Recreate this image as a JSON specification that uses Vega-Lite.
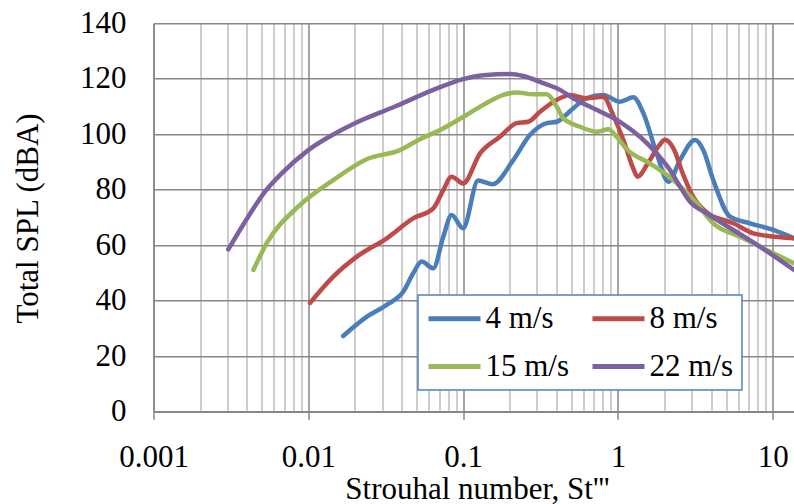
{
  "$schema": "https://vega.github.io/schema/vega-lite/v6.json",
  "width": 640.5,
  "height": 388.4,
  "autosize": {"type": "none"},
  "padding": {"left": 153.5, "top": 23.3, "right": 0, "bottom": 92.3},
  "background": "white",
  "config": {
    "view": {"stroke": null},
    "font": "Liberation Serif",
    "legend": {"strokeWidth": 1.5}
  },
  "data": {
    "values": [
      {"s": "4 m/s", "st": 0.0168, "spl": 27.3},
      {"s": "4 m/s", "st": 0.0238, "spl": 34.2},
      {"s": "4 m/s", "st": 0.0321, "spl": 38.5},
      {"s": "4 m/s", "st": 0.0411, "spl": 43.3},
      {"s": "4 m/s", "st": 0.0476, "spl": 49.9},
      {"s": "4 m/s", "st": 0.054, "spl": 54.1},
      {"s": "4 m/s", "st": 0.0642, "spl": 51.7},
      {"s": "4 m/s", "st": 0.0745, "spl": 63.1},
      {"s": "4 m/s", "st": 0.0843, "spl": 70.9},
      {"s": "4 m/s", "st": 0.1, "spl": 66.1},
      {"s": "4 m/s", "st": 0.125, "spl": 83.3},
      {"s": "4 m/s", "st": 0.155, "spl": 82.0},
      {"s": "4 m/s", "st": 0.211, "spl": 90.7},
      {"s": "4 m/s", "st": 0.27, "spl": 99.7},
      {"s": "4 m/s", "st": 0.347, "spl": 104.0},
      {"s": "4 m/s", "st": 0.403, "spl": 104.5},
      {"s": "4 m/s", "st": 0.515, "spl": 109.4},
      {"s": "4 m/s", "st": 0.629, "spl": 113.0},
      {"s": "4 m/s", "st": 0.805, "spl": 114.2},
      {"s": "4 m/s", "st": 1.03, "spl": 111.7},
      {"s": "4 m/s", "st": 1.258, "spl": 113.3},
      {"s": "4 m/s", "st": 1.46, "spl": 107.6},
      {"s": "4 m/s", "st": 1.78, "spl": 93.1},
      {"s": "4 m/s", "st": 2.12, "spl": 82.9},
      {"s": "4 m/s", "st": 2.52, "spl": 90.7},
      {"s": "4 m/s", "st": 3.15, "spl": 97.9},
      {"s": "4 m/s", "st": 3.56, "spl": 94.3},
      {"s": "4 m/s", "st": 4.13, "spl": 83.5},
      {"s": "4 m/s", "st": 5.3, "spl": 70.3},
      {"s": "4 m/s", "st": 7.13, "spl": 67.9},
      {"s": "4 m/s", "st": 10.1, "spl": 65.5},
      {"s": "4 m/s", "st": 13.73, "spl": 62.5},

      {"s": "8 m/s", "st": 0.01026, "spl": 39.2},
      {"s": "8 m/s", "st": 0.0145, "spl": 48.7},
      {"s": "8 m/s", "st": 0.0206, "spl": 55.9},
      {"s": "8 m/s", "st": 0.0321, "spl": 62.5},
      {"s": "8 m/s", "st": 0.0476, "spl": 69.7},
      {"s": "8 m/s", "st": 0.0642, "spl": 73.3},
      {"s": "8 m/s", "st": 0.0745, "spl": 79.9},
      {"s": "8 m/s", "st": 0.0843, "spl": 84.7},
      {"s": "8 m/s", "st": 0.1, "spl": 82.3},
      {"s": "8 m/s", "st": 0.1287, "spl": 93.1},
      {"s": "8 m/s", "st": 0.173, "spl": 99.1},
      {"s": "8 m/s", "st": 0.222, "spl": 104.0},
      {"s": "8 m/s", "st": 0.264, "spl": 104.5},
      {"s": "8 m/s", "st": 0.314, "spl": 108.1},
      {"s": "8 m/s", "st": 0.383, "spl": 111.7},
      {"s": "8 m/s", "st": 0.491, "spl": 114.2},
      {"s": "8 m/s", "st": 0.629, "spl": 113.0},
      {"s": "8 m/s", "st": 0.805, "spl": 113.5},
      {"s": "8 m/s", "st": 0.93, "spl": 107.0},
      {"s": "8 m/s", "st": 1.1, "spl": 97.0},
      {"s": "8 m/s", "st": 1.25, "spl": 88.0},
      {"s": "8 m/s", "st": 1.34, "spl": 84.7},
      {"s": "8 m/s", "st": 1.56, "spl": 89.5},
      {"s": "8 m/s", "st": 1.85, "spl": 96.0},
      {"s": "8 m/s", "st": 2.01, "spl": 98.0},
      {"s": "8 m/s", "st": 2.28, "spl": 95.0},
      {"s": "8 m/s", "st": 2.66, "spl": 85.0},
      {"s": "8 m/s", "st": 3.06, "spl": 77.5},
      {"s": "8 m/s", "st": 3.75, "spl": 71.8},
      {"s": "8 m/s", "st": 5.57, "spl": 67.9},
      {"s": "8 m/s", "st": 7.5, "spl": 64.3},
      {"s": "8 m/s", "st": 9.14, "spl": 63.4},
      {"s": "8 m/s", "st": 13.73, "spl": 62.5},

      {"s": "15 m/s", "st": 0.00442, "spl": 51.1},
      {"s": "15 m/s", "st": 0.00538, "spl": 60.7},
      {"s": "15 m/s", "st": 0.0086, "spl": 73.9},
      {"s": "15 m/s", "st": 0.01452, "spl": 83.5},
      {"s": "15 m/s", "st": 0.0238, "spl": 91.0},
      {"s": "15 m/s", "st": 0.0391, "spl": 94.3},
      {"s": "15 m/s", "st": 0.0526, "spl": 98.2},
      {"s": "15 m/s", "st": 0.071, "spl": 101.5},
      {"s": "15 m/s", "st": 0.1054, "spl": 107.0},
      {"s": "15 m/s", "st": 0.135, "spl": 110.6},
      {"s": "15 m/s", "st": 0.182, "spl": 114.2},
      {"s": "15 m/s", "st": 0.222, "spl": 115.1},
      {"s": "15 m/s", "st": 0.284, "spl": 114.4},
      {"s": "15 m/s", "st": 0.347, "spl": 114.4},
      {"s": "15 m/s", "st": 0.403, "spl": 109.9},
      {"s": "15 m/s", "st": 0.444, "spl": 105.8},
      {"s": "15 m/s", "st": 0.569, "spl": 102.7},
      {"s": "15 m/s", "st": 0.729, "spl": 100.9},
      {"s": "15 m/s", "st": 0.867, "spl": 101.8},
      {"s": "15 m/s", "st": 0.98, "spl": 99.1},
      {"s": "15 m/s", "st": 1.14, "spl": 94.6},
      {"s": "15 m/s", "st": 1.61, "spl": 89.5},
      {"s": "15 m/s", "st": 2.28, "spl": 83.5},
      {"s": "15 m/s", "st": 3.23, "spl": 75.1},
      {"s": "15 m/s", "st": 4.13, "spl": 67.9},
      {"s": "15 m/s", "st": 6.15, "spl": 63.1},
      {"s": "15 m/s", "st": 9.14, "spl": 58.3},
      {"s": "15 m/s", "st": 13.73, "spl": 53.5},

      {"s": "22 m/s", "st": 0.00304, "spl": 58.5},
      {"s": "22 m/s", "st": 0.00409, "spl": 70.3},
      {"s": "22 m/s", "st": 0.00525, "spl": 79.3},
      {"s": "22 m/s", "st": 0.00673, "spl": 85.9},
      {"s": "22 m/s", "st": 0.01, "spl": 94.3},
      {"s": "22 m/s", "st": 0.0156, "spl": 100.9},
      {"s": "22 m/s", "st": 0.02, "spl": 104.0},
      {"s": "22 m/s", "st": 0.0363, "spl": 110.0},
      {"s": "22 m/s", "st": 0.0642, "spl": 116.0},
      {"s": "22 m/s", "st": 0.1, "spl": 119.9},
      {"s": "22 m/s", "st": 0.135, "spl": 121.3},
      {"s": "22 m/s", "st": 0.201, "spl": 121.7},
      {"s": "22 m/s", "st": 0.245, "spl": 121.0},
      {"s": "22 m/s", "st": 0.33, "spl": 118.4},
      {"s": "22 m/s", "st": 0.423, "spl": 116.0},
      {"s": "22 m/s", "st": 0.515, "spl": 113.0},
      {"s": "22 m/s", "st": 0.766, "spl": 108.2},
      {"s": "22 m/s", "st": 1.03, "spl": 104.5},
      {"s": "22 m/s", "st": 1.39, "spl": 99.1},
      {"s": "22 m/s", "st": 1.78, "spl": 93.1},
      {"s": "22 m/s", "st": 2.17, "spl": 87.1},
      {"s": "22 m/s", "st": 2.52, "spl": 81.1},
      {"s": "22 m/s", "st": 2.92, "spl": 75.7},
      {"s": "22 m/s", "st": 3.75, "spl": 71.5},
      {"s": "22 m/s", "st": 5.57, "spl": 65.5},
      {"s": "22 m/s", "st": 8.27, "spl": 59.5},
      {"s": "22 m/s", "st": 13.73, "spl": 51.1}
    ]
  },
  "mark": {"type": "line", "interpolate": "monotone", "strokeWidth": 4.5, "strokeCap": "round", "clip": true},
  "encoding": {
    "x": {
      "field": "st",
      "type": "quantitative",
      "scale": {"type": "log", "domain": [0.001, 13.73], "nice": false},
      "axis": {
        "values": [0.001, 0.002, 0.003, 0.004, 0.005, 0.006, 0.007, 0.008, 0.009,
                   0.01, 0.02, 0.03, 0.04, 0.05, 0.06, 0.07, 0.08, 0.09,
                   0.1, 0.2, 0.3, 0.4, 0.5, 0.6, 0.7, 0.8, 0.9,
                   1, 2, 3, 4, 5, 6, 7, 8, 9, 10],
        "labelExpr": "datum.value == 0.001 ? '0.001' : datum.value == 0.01 ? '0.01' : datum.value == 0.1 ? '0.1' : datum.value == 1 ? '1' : datum.value == 10 ? '10' : ''",
        "labelFont": "Liberation Serif",
        "labelFontSize": 31,
        "labelColor": "black",
        "labelBaseline": "alphabetic",
        "labelPadding": 47.5,
        "labelFlush": false,
        "labelOverlap": false,
        "grid": true,
        "gridColor": {"condition": {"test": "datum.value == 0.001 || datum.value == 0.01 || datum.value == 0.1 || datum.value == 1 || datum.value == 10", "value": "#878787"}, "value": "#bdbdbd"},
        "gridWidth": 1.5,
        "ticks": true,
        "tickSize": 7.5,
        "tickWidth": 1.5,
        "tickColor": "#878787",
        "tickOpacity": {"condition": {"test": "datum.value == 0.001 || datum.value == 0.01 || datum.value == 0.1 || datum.value == 1 || datum.value == 10", "value": 1}, "value": 0},
        "domainColor": "#878787",
        "domainWidth": 1.5,
        "title": "Strouhal number, St'''",
        "titleFont": "Liberation Serif",
        "titleFontSize": 31,
        "titleFontWeight": "normal",
        "titleColor": "black",
        "titleX": 323.5,
        "titleY": 87,
        "titleAlign": "center",
        "titleBaseline": "alphabetic"
      }
    },
    "y": {
      "field": "spl",
      "type": "quantitative",
      "scale": {"domain": [0, 140], "nice": false},
      "axis": {
        "values": [0, 20, 40, 60, 80, 100, 120, 140],
        "labelFont": "Liberation Serif",
        "labelFontSize": 31,
        "labelColor": "black",
        "labelPadding": 27.5,
        "labelFlush": false,
        "ticks": false,
        "tickSize": 0,
        "grid": true,
        "gridColor": "#878787",
        "gridWidth": 1.5,
        "domainColor": "#878787",
        "domainWidth": 1.5,
        "title": "Total SPL (dBA)",
        "titleFont": "Liberation Serif",
        "titleFontSize": 31,
        "titleFontWeight": "normal",
        "titleColor": "black",
        "titleX": -116.5,
        "titleY": 194.7,
        "titleAngle": -90,
        "titleAlign": "center",
        "titleBaseline": "alphabetic"
      }
    },
    "color": {
      "field": "s",
      "type": "nominal",
      "scale": {
        "domain": ["4 m/s", "8 m/s", "15 m/s", "22 m/s"],
        "range": ["#4A7EBB", "#BE4B48", "#98B954", "#7D60A0"]
      },
      "legend": {
        "orient": "none",
        "legendX": 264.5,
        "legendY": 271.7,
        "direction": "horizontal",
        "columns": 2,
        "title": null,
        "symbolType": "M-1,0H3",
        "symbolSize": 676,
        "symbolStrokeWidth": 5,
        "labelFont": "Liberation Serif",
        "labelFontSize": 31,
        "labelColor": "black",
        "labelOffset": 28.5,
        "labelLimit": 300,
        "columnPadding": 12,
        "rowPadding": 16,
        "padding": 8,
        "strokeColor": "#4F81BD",
        "fillColor": "white"
      }
    }
  }
}
